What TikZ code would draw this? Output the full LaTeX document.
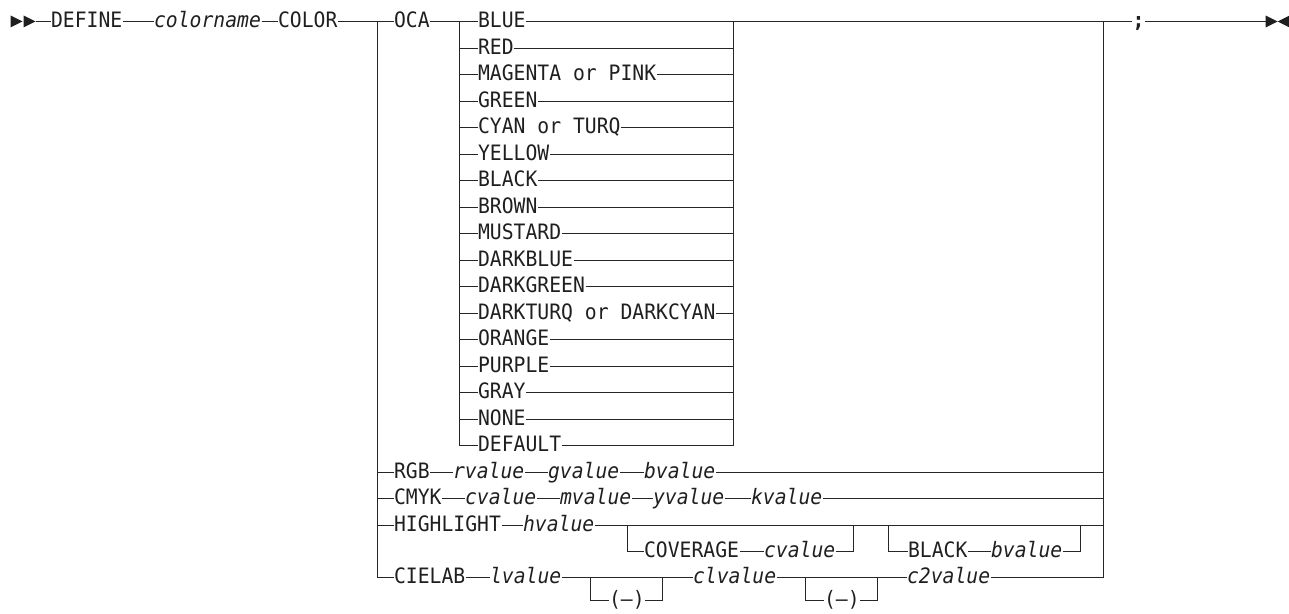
\documentclass[tikz,border=0pt]{standalone}
\usepackage{fontspec}
\newfontfamily\railfont[FakeStretch=0.93]{DejaVu Sans Mono}

\begin{document}
\begin{tikzpicture}[x=0.5pt, y=-0.5pt, line width=0.6pt, draw=black!85,
  kw/.style={anchor=west, inner sep=0pt, text height=7.5pt, text depth=1.5pt,
    text=black!88, font=\railfont\fontsize{10.6pt}{12pt}\selectfont},
  var/.style={kw, font=\railfont\itshape\fontsize{10.6pt}{12pt}\selectfont}]
\useasboundingbox (-0.5,-0.5) rectangle (1288.5,613.5);
% start and end marks
\fill[black!88] (10,15) -- (22,21) -- (10,27) -- cycle;
\fill[black!88] (23,15) -- (35,21) -- (23,27) -- cycle;
\fill[black!88] (1265,15) -- (1277,21) -- (1265,27) -- cycle;
\fill[black!88] (1289,15) -- (1277,21) -- (1289,27) -- cycle;
% main line
\coordinate (start) at (35,21);
\node[kw] (define) at (50,21) {DEFINE};
\node[var] (cname) at (153,21) {colorname};
\node[kw] (color) at (277,21) {COLOR};
\coordinate (split) at (377,21);
\node[kw] (oca) at (393,21) {OCA};
\coordinate (ocain) at (459,21);
\coordinate (ocaout) at (733,21);
\coordinate (join) at (1103,21);
\node[kw, anchor=center, font=\railfont\bfseries\fontsize{10.6pt}{12pt}\selectfont] (semi) at (1138,21) {;};
\coordinate (stop) at (1265,21);
\draw (start) -- (define.west) (define.east) -- (cname.west)
  (cname.east) -- (color.west) (color.east) -- (oca.west);
\draw (join) -- (semi.west) (semi.east) -- (stop);
% OCA colours
\foreach \c [count=\i from 0] in {BLUE, RED, MAGENTA or PINK, GREEN, CYAN or TURQ,
    YELLOW, BLACK, BROWN, MUSTARD, DARKBLUE, DARKGREEN, DARKTURQ or DARKCYAN,
    ORANGE, PURPLE, GRAY, NONE, DEFAULT} {
  \node[kw] (oca\i) at (477,{round(21+26.5*\i)}) {\c};
  \draw (ocain |- oca\i.west) -- (oca\i.west) (oca\i.east) -- (ocaout |- oca\i.east);
}
\draw (oca.east) -- (ocain) -- (ocain |- oca16.west);
\draw (ocaout |- oca16.east) -- (ocaout) -- (join);
% RGB
\node[kw] (rgb) at (393,472) {RGB};
\node[var] (rv) at (452,472) {rvalue};
\node[var] (gv) at (547,472) {gvalue};
\node[var] (bv) at (643,472) {bvalue};
\draw (split |- rgb.west) -- (rgb.west) (rgb.east) -- (rv.west) (rv.east) -- (gv.west)
  (gv.east) -- (bv.west) (bv.east) -- (join |- bv.east);
% CMYK
\node[kw] (cmyk) at (393,498) {CMYK};
\node[var] (cyv) at (464,498) {cvalue};
\node[var] (mv) at (559,498) {mvalue};
\node[var] (yv) at (652,498) {yvalue};
\node[var] (kv) at (750,498) {kvalue};
\draw (split |- cmyk.west) -- (cmyk.west) (cmyk.east) -- (cyv.west) (cyv.east) -- (mv.west)
  (mv.east) -- (yv.west) (yv.east) -- (kv.west) (kv.east) -- (join |- kv.east);
% HIGHLIGHT
\node[kw] (hl) at (393,525) {HIGHLIGHT};
\node[var] (hv) at (522,525) {hvalue};
\coordinate (covin) at (627,525);
\coordinate (covout) at (853,525);
\coordinate (blkin) at (888,525);
\coordinate (blkout) at (1080,525);
\node[kw] (cov) at (643,551) {COVERAGE};
\node[var] (cv) at (763,551) {cvalue};
\node[kw] (blk) at (907,551) {BLACK};
\node[var] (bkv) at (990,551) {bvalue};
\draw (split |- hl.west) -- (hl.west) (hl.east) -- (hv.west) (hv.east) -- (join |- hv.east);
\draw (covin) |- (cov.west) (cov.east) -- (cv.west) (cv.east) -| (covout);
\draw (blkin) |- (blk.west) (blk.east) -- (bkv.west) (bkv.east) -| (blkout);
% CIELAB
\node[kw] (cie) at (393,577) {CIELAB};
\node[var] (lv) at (489,577) {lvalue};
\node[var] (c1) at (692,577) {clvalue};
\node[var] (c2) at (906,577) {c2value};
\coordinate (neg1in) at (590,577);
\coordinate (neg1out) at (662,577);
\coordinate (neg2in) at (805,577);
\coordinate (neg2out) at (877,577);
\node[kw] (neg1) at (608,600) {(–)};
\node[kw] (neg2) at (823,600) {(–)};
\draw (split) |- (cie.west);
\draw (cie.east) -- (lv.west) (lv.east) -- (c1.west) (c1.east) -- (c2.west) (c2.east) -| (join);
\draw (neg1in) |- (neg1.west) (neg1.east) -| (neg1out);
\draw (neg2in) |- (neg2.west) (neg2.east) -| (neg2out);
\end{tikzpicture}
\end{document}
